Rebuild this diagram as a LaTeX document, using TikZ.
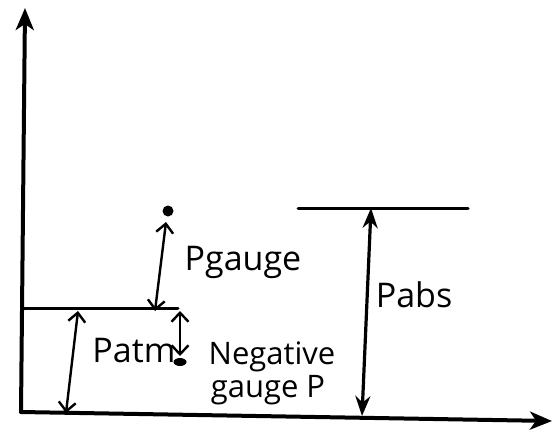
\documentclass[tikz,border=0pt]{standalone}
\usepackage{fontspec}
\setmainfont{Open Sans}
\usetikzlibrary{arrows.meta,shapes.geometric}
\begin{document}
\begin{tikzpicture}[x=1pt,y=-1pt,line cap=round,
  axis/.style={line width=4pt,-{Stealth[length=22pt,width=18pt,inset=6pt]}},
  level/.style={line width=3pt},
  dim/.style={line width=2.4pt,{Straight Barb[length=9pt,width=17pt]}-{Straight Barb[length=9pt,width=17pt]}},
  dimf/.style={line width=3.2pt,{Stealth[length=20pt,width=15pt]}-{Stealth[length=20pt,width=15pt]}},
  lbl/.style={font=\fontsize{34}{36}\selectfont,inner sep=0pt},
  lbls/.style={font=\fontsize{31}{33}\selectfont,inner sep=0pt},
  dot/.style={circle,fill=black,inner sep=0pt,minimum size=11pt}]
\useasboundingbox (0,0) rectangle (553,437);
\fill[white] (0,0) rectangle (553,437);
% axes
\coordinate (O) at (21,412);
\coordinate (ytop) at (25,8);
\coordinate (xend) at (552,421);
\draw[axis] (O) -- (ytop);
\draw[axis] (O) -- (xend);
% atmospheric level
\coordinate (atmL) at (22,308);
\coordinate (atmR) at (178,308);
\draw[level] (atmL) -- (atmR);
% abs level
\coordinate (absL) at (298,208);
\coordinate (absR) at (468,208);
\draw[level] (absL) -- (absR);
% points
\node[dot] (p1) at (168,211) {};
\node[ellipse,fill=black,inner sep=0pt,minimum width=13pt,minimum height=8pt] (p2) at (180,362) {};
% dimension arrows
\coordinate (a1) at (78,311);
\coordinate (a2) at (66,413);
\draw[dim] (a1) -- (a2);
\coordinate (g1) at (166,222);
\coordinate (g2) at (155,311);
\draw[dim] (g1) -- (g2);
\coordinate (n1) at (180,311);
\coordinate (n2) at (180,356);
\draw[dim] (n1) -- (n2);
\coordinate (b1) at (371,208);
\coordinate (b2) at (362,416);
\draw[dimf] (b1) -- (b2);
% labels
\node[lbl] (lg) at (243,262) {Pgauge};
\node[lbl] (la) at (134,351) {Patm};
\node[lbl] (lb) at (414,295) {Pabs};
\node[lbls] (ln) at (272,357) {Negative};
\node[lbls] (ln2) at (268,390) {gauge P};
\end{tikzpicture}
\end{document}
